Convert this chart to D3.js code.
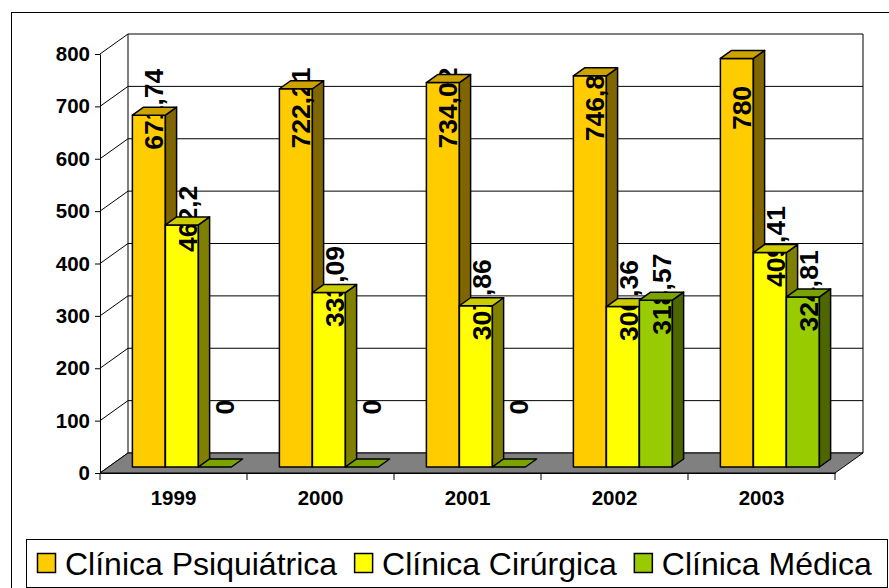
<!DOCTYPE html>
<html>
<head>
<meta charset="utf-8">
<script src="https://cdn.jsdelivr.net/npm/d3@7"></script>
<style>
  body { margin: 0; background: #fff; }
  text { font-family: "Liberation Sans", Arial, sans-serif; }
</style>
</head>
<body>
<script>
const years = ['1999', '2000', '2001', '2002', '2003'];
const series = ['Clínica Psiquiátrica', 'Clínica Cirúrgica', 'Clínica Médica'];
const psiquiatrica = [671.74, 722.21, 734.02, 746.8, 780];
const cirurgica = [462.2, 333.09, 307.86, 306.36, 409.41];
const medica = [0, 0, 0, 318.57, 324.81];
const yTicks = [0, 100, 200, 300, 400, 500, 600, 700, 800];

const values = [psiquiatrica, cirurgica, medica];
const front = ['#FFCC00', '#FFFF00', '#99CC00'];
const side = ['#806600', '#808000', '#4D6600'];
const top_ = ['#CCA300', '#CCCC00', '#7AA300'];

const W = 889, H = 588;
const DX = 28, DY = -20;      // depth of the 3d box
const f0 = 0.3, f1 = 0.7;     // bars sit in the middle of the depth
const ddx = (f1 - f0) * DX, ddy = (f1 - f0) * DY;

const svg = d3.select('body').append('svg')
              .attr('width', W)
              .attr('height', H);

// outer chart border
svg.append('rect')
   .attr('x', 11.5).attr('y', 12.5)
   .attr('width', 900).attr('height', 600)
   .attr('fill', 'none').attr('stroke', '#000');

const x0 = d3.scaleBand().domain(years).range([100, 835]);
const x1 = d3.scaleBand().domain(series).range([0, x0.bandwidth()]).paddingOuter(0.727);
const y = d3.scaleLinear().domain([0, 800]).range([473, 54]);

const xl = x0.range()[0], xr = x0.range()[1];
const y0 = y(0), yTop = y(800);
const pts = p => p.map(d => d.join(',')).join(' ');

// walls
svg.append('polygon')
   .attr('points', pts([[xl, y0], [xl, yTop], [xl + DX, yTop + DY], [xl + DX, y0 + DY]]))
   .attr('fill', '#fff');
svg.append('rect')
   .attr('x', xl + DX).attr('y', yTop + DY)
   .attr('width', xr - xl).attr('height', y0 - yTop)
   .attr('fill', '#fff');

// grid lines on back and left walls
const grid = svg.append('g').attr('stroke', '#000').attr('stroke-width', 1);
yTicks.forEach(t => {
    grid.append('line')
        .attr('x1', xl + DX).attr('x2', xr + DX)
        .attr('y1', y(t) + DY).attr('y2', y(t) + DY);
    grid.append('line')
        .attr('x1', xl).attr('x2', xl + DX)
        .attr('y1', y(t)).attr('y2', y(t) + DY);
});
grid.append('line')
    .attr('x1', xl + DX).attr('x2', xl + DX)
    .attr('y1', yTop + DY).attr('y2', y0 + DY);
grid.append('line')
    .attr('x1', xr + DX).attr('x2', xr + DX)
    .attr('y1', yTop + DY).attr('y2', y0 + DY);

// floor
svg.append('polygon')
   .attr('points', pts([[xl, y0], [xr, y0], [xr + DX, y0 + DY], [xl + DX, y0 + DY]]))
   .attr('fill', '#808080')
   .attr('stroke', '#000')
   .attr('stroke-width', 1);

// y axis
const yAxis = svg.append('g')
   .attr('transform', `translate(${xl},0)`)
   .call(d3.axisLeft(y).tickValues(yTicks).tickSize(5).tickSizeOuter(0).tickPadding(5));
yAxis.selectAll('text')
     .attr('font-family', '"Liberation Sans", Arial, sans-serif')
     .attr('font-size', 20.5).attr('font-weight', 'bold').attr('fill', '#000');
yAxis.selectAll('line, path').attr('stroke', '#000');

// x axis
const xAxis = svg.append('g')
   .attr('transform', `translate(0,${y0})`)
   .call(d3.axisBottom(x0).tickSize(0).tickPadding(17.5));
xAxis.select('.domain').attr('stroke', '#000');
xAxis.selectAll('text')
     .attr('font-family', '"Liberation Sans", Arial, sans-serif')
     .attr('font-size', 20.5).attr('font-weight', 'bold').attr('fill', '#000');
xAxis.selectAll('.sep')
     .data(years.map(d => x0(d)).concat([xr]))
     .enter()
     .append('line')
     .attr('x1', d => d).attr('x2', d => d)
     .attr('y1', 0).attr('y2', 7)
     .attr('stroke', '#000');

// bars, drawn category by category, series by series
const fmt = v => String(v).replace('.', ',');
const bars = svg.append('g').attr('stroke', '#000').attr('stroke-width', 1.5).attr('stroke-linejoin', 'round');
const w = x1.bandwidth();

years.forEach((yr, i) => {
    series.forEach((s, j) => {
        const v = values[j][i];
        const xf = x0(yr) + x1(s) + f0 * DX;
        const yb = y(0) + f0 * DY;
        const yt = y(v) + f0 * DY;
        const g = bars.append('g');
        if (v > 0) {
            g.append('rect')
             .attr('x', xf).attr('y', yt)
             .attr('width', w).attr('height', yb - yt)
             .attr('fill', front[j]);
            g.append('polygon')
             .attr('points', pts([[xf + w, yb], [xf + w, yt], [xf + w + ddx, yt + ddy], [xf + w + ddx, yb + ddy]]))
             .attr('fill', side[j]);
        }
        let cy = yt + ddy * 0.75;
        cy = Math.min(Math.max(cy, 108), 407);
        const cx = xf + w / 2 + ddx / 2 + (v > 0 ? 0 : 4);
        g.append('text')
         .attr('transform', `translate(${cx},${cy}) rotate(-90)`)
         .attr('text-anchor', 'middle')
         .attr('dominant-baseline', 'central')
         .attr('font-size', 26.5).attr('font-weight', 'bold')
         .attr('stroke', 'none').attr('fill', '#000')
         .text(fmt(v));
        g.append('polygon')
         .attr('points', pts([[xf, yt], [xf + w, yt], [xf + w + ddx, yt + ddy], [xf + ddx, yt + ddy]]))
         .attr('fill', top_[j]);
    });
});

// legend
const legend = svg.append('g');
legend.append('rect')
      .attr('x', 26.5).attr('y', 539.5)
      .attr('width', 861).attr('height', 48)
      .attr('fill', '#fff').attr('stroke', '#000');
let lx = 37;
series.forEach((s, j) => {
    legend.append('rect')
          .attr('x', lx + 0.5).attr('y', 553.5)
          .attr('width', 18).attr('height', 19)
          .attr('fill', front[j]).attr('stroke', '#000').attr('stroke-width', 1.5);
    const t = legend.append('text')
          .attr('x', lx + 28).attr('y', 575)
          .attr('font-size', 32).attr('fill', '#000')
          .text(s);
    lx = lx + 28 + t.node().getComputedTextLength() + 17;
});
</script>
</body>
</html>
